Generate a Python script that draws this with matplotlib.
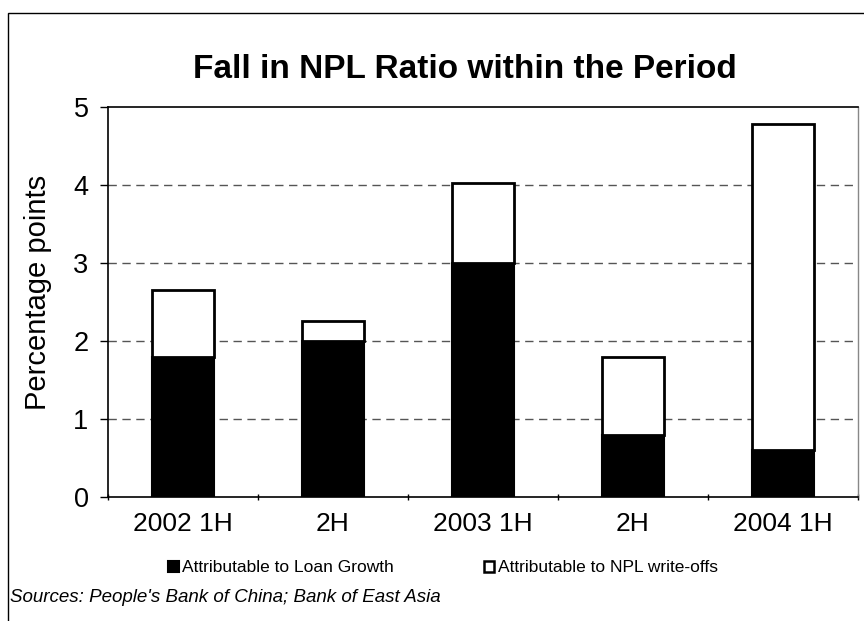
import matplotlib
matplotlib.use("Agg")
import matplotlib.pyplot as plt
from matplotlib.patches import Patch, Rectangle
import numpy as np

plt.rcParams['font.family'] = ['Liberation Sans', 'DejaVu Sans']

categories = ["2002 1H", "2H", "2003 1H", "2H", "2004 1H"]
loan_growth = [1.8, 2.0, 3.0, 0.8, 0.6]
write_offs = [0.85, 0.25, 1.02, 1.0, 4.18]

fig = plt.figure(figsize=(8.64, 6.21), dpi=100)
ax = fig.add_axes([0.125, 0.1997, 0.868, 0.628])

x = np.arange(len(categories))
w = 0.41
ax.bar(x, loan_growth, w, color="black", edgecolor="black", linewidth=1.5, zorder=3)
ax.bar(x, write_offs, w, bottom=loan_growth, color="white", edgecolor="black",
       linewidth=2, zorder=3)

ax.set_xlim(-0.5, len(categories) - 0.5)
ax.set_ylim(0, 5)
ax.set_yticks(range(6))
ax.set_xticks(x)
ax.set_xticklabels(categories)
ax.set_xticks(np.arange(-0.5, len(categories)), minor=True)
ax.tick_params(axis="x", which="major", length=0, pad=11, labelsize=19)
ax.tick_params(axis="x", which="minor", length=5, width=1, direction="inout")
ax.tick_params(axis="y", length=6, width=1, pad=8, labelsize=19.5)

for yv in range(1, 5):
    ax.axhline(yv, color="#555555", lw=1, ls=(0, (6, 4)), zorder=1)

ax.spines["left"].set_linewidth(1.2)
ax.spines["bottom"].set_linewidth(1.2)
ax.spines["top"].set_linewidth(1.2)
ax.spines["right"].set_color("#888888")
ax.spines["right"].set_linewidth(1)

ax.set_ylabel("Percentage points", fontsize=21)
ax.yaxis.set_label_coords(-0.075, 0.525)

fig.text(465 / 864, 1 - 69 / 621, "Fall in NPL Ratio within the Period",
         ha="center", va="center", fontsize=24, fontweight="bold")

handles = [Patch(facecolor="black", edgecolor="black", lw=1.5),
           Patch(facecolor="white", edgecolor="black", lw=1.8)]
fig.legend(handles, ["Attributable to Loan Growth", "Attributable to NPL write-offs"],
           loc="center", bbox_to_anchor=(443 / 864, 1 - 568 / 621), ncol=2,
           frameon=False, fontsize=12.5, handlelength=0.6, handleheight=0.6,
           handletextpad=0.2, columnspacing=5.2)

fig.text(10 / 864, 1 - 598 / 621, "Sources: People's Bank of China; Bank of East Asia",
         ha="left", va="center", fontsize=13.5, style="italic")

# outer chart frame (top and left visible)
fig.patches.append(Rectangle((8 / 864, -0.1), 1.2, 1 - 13 / 621 + 0.1,
                             transform=fig.transFigure, fill=False,
                             edgecolor="black", lw=1))

fig.savefig("out.png", dpi=100)
